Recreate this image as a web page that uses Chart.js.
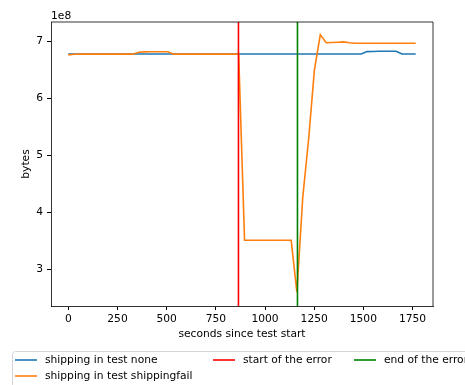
<!DOCTYPE html>
<html>
<head>
<meta charset="utf-8">
<script src="https://cdn.jsdelivr.net/npm/chart.js@4"></script>
<style>
    body { margin: 0; background: #fff; }
    canvas { display: block; }
</style>
</head>
<body>
<canvas id="grafico" width="465" height="385"></canvas>
<script>
// Tempos das amostras (segundos desde o início do teste)
const temposAmostra = [
    0, 30, 60, 90, 119, 149, 179, 209, 238, 268,
    298, 328, 357, 387, 417, 447, 476, 506, 536, 566,
    595, 625, 655, 685, 714, 744, 774, 804, 834, 866,
    896, 925, 955, 985, 1014, 1044, 1074, 1103, 1133, 1162,
    1192, 1222, 1251, 1281, 1311, 1340, 1370, 1400, 1429, 1459,
    1489, 1518, 1548, 1578, 1607, 1637, 1667, 1696, 1731, 1766
];

// Bytes no teste "none"
const bytesNone = [
    6.782e8, 6.782e8, 6.782e8, 6.782e8, 6.782e8, 6.782e8, 6.782e8, 6.782e8, 6.782e8, 6.782e8,
    6.782e8, 6.782e8, 6.782e8, 6.782e8, 6.782e8, 6.782e8, 6.782e8, 6.782e8, 6.782e8, 6.782e8,
    6.782e8, 6.782e8, 6.782e8, 6.782e8, 6.782e8, 6.782e8, 6.782e8, 6.782e8, 6.782e8, 6.782e8,
    6.782e8, 6.782e8, 6.782e8, 6.782e8, 6.782e8, 6.782e8, 6.782e8, 6.782e8, 6.782e8, 6.782e8,
    6.782e8, 6.782e8, 6.782e8, 6.782e8, 6.782e8, 6.782e8, 6.782e8, 6.782e8, 6.782e8, 6.782e8,
    6.782e8, 6.825e8, 6.828e8, 6.830e8, 6.830e8, 6.832e8, 6.832e8, 6.782e8, 6.782e8, 6.782e8
];

// Bytes no teste "shippingfail"
const bytesShippingfail = [
    6.768e8, 6.778e8, 6.780e8, 6.780e8, 6.780e8, 6.780e8, 6.780e8, 6.780e8, 6.780e8, 6.780e8,
    6.780e8, 6.780e8, 6.815e8, 6.820e8, 6.822e8, 6.823e8, 6.823e8, 6.822e8, 6.780e8, 6.780e8,
    6.780e8, 6.780e8, 6.780e8, 6.780e8, 6.780e8, 6.780e8, 6.780e8, 6.780e8, 6.780e8, 6.780e8,
    3.510e8, 3.510e8, 3.510e8, 3.510e8, 3.510e8, 3.510e8, 3.510e8, 3.510e8, 3.510e8, 2.600e8,
    4.270e8, 5.300e8, 6.500e8, 7.120e8, 6.980e8, 6.985e8, 6.990e8, 6.995e8, 6.980e8, 6.972e8,
    6.972e8, 6.972e8, 6.972e8, 6.972e8, 6.972e8, 6.972e8, 6.972e8, 6.972e8, 6.972e8, 6.972e8
];

// Início e fim do erro (segundos)
const inicioErro = 865;
const fimErro = 1165;

// Ticks dos eixos
const ticksX = [0, 250, 500, 750, 1000, 1250, 1500, 1750];
const ticksY = [3e8, 4e8, 5e8, 6e8, 7e8];
const limitesX = [-88, 1854];
const limitesY = [2.356e8, 7.345e8];

const fonte = "'DejaVu Sans', sans-serif";
const tamanhoFonte = 10.7;

function montarPontos(tempos, valores) {
    return tempos.map((t, i) => ({ x: t, y: valores[i] }));
}

// Legenda em três colunas, como no matplotlib
const pluginLegenda = {
    id: 'legendaColunas',
    afterDraw(chart) {
        const ctx = chart.ctx;
        const ds = chart.data.datasets;
        ctx.save();
        ctx.beginPath();
        ctx.roundRect(12.5, 351.5, 470, 50, 3);
        ctx.fillStyle = 'rgba(255,255,255,0.8)';
        ctx.fill();
        ctx.strokeStyle = '#d6d6d6';
        ctx.lineWidth = 1;
        ctx.stroke();

        const itens = [
            { ds: ds[0], x: 15, y: 360 },
            { ds: ds[1], x: 15, y: 376 },
            { ds: ds[2], x: 213, y: 360 },
            { ds: ds[3], x: 354, y: 360 }
        ];
        ctx.font = tamanhoFonte + 'px ' + fonte;
        ctx.textBaseline = 'middle';
        itens.forEach(item => {
            ctx.beginPath();
            ctx.moveTo(item.x, item.y);
            ctx.lineTo(item.x + 22, item.y);
            ctx.strokeStyle = item.ds.borderColor;
            ctx.lineWidth = 1.6;
            ctx.stroke();
            ctx.fillStyle = '#000';
            ctx.fillText(item.ds.label, item.x + 30, item.y);
        });

        // Moldura superior e direita + "1e8"
        const a = chart.chartArea;
        ctx.strokeStyle = '#000';
        ctx.lineWidth = 0.8;
        ctx.beginPath();
        ctx.moveTo(a.left, a.top);
        ctx.lineTo(a.right, a.top);
        ctx.lineTo(a.right, a.bottom);
        ctx.stroke();
        ctx.fillStyle = '#000';
        ctx.textBaseline = 'alphabetic';
        ctx.fillText('1e8', a.left, a.top - 3);
        ctx.restore();
    }
};

new Chart(document.getElementById('grafico').getContext('2d'), {
    type: 'line',
    data: {
        datasets: [
            {
                label: 'shipping in test none',
                data: montarPontos(temposAmostra, bytesNone),
                borderColor: '#1f77b4',
                order: 4
            },
            {
                label: 'shipping in test shippingfail',
                data: montarPontos(temposAmostra, bytesShippingfail),
                borderColor: '#ff7f0e',
                order: 3
            },
            {
                label: 'start of the error',
                data: [{ x: inicioErro, y: limitesY[0] }, { x: inicioErro, y: limitesY[1] }],
                borderColor: '#ff0000',
                order: 2
            },
            {
                label: 'end of the error',
                data: [{ x: fimErro, y: limitesY[0] }, { x: fimErro, y: limitesY[1] }],
                borderColor: '#008000',
                order: 1
            }
        ]
    },
    options: {
        responsive: false,
        animation: false,
        devicePixelRatio: 1,
        layout: { padding: { left: 0, top: 22, right: 32, bottom: 39 } },
        elements: {
            point: { radius: 0 },
            line: { borderWidth: 1.6, tension: 0, fill: false }
        },
        plugins: {
            legend: { display: false },
            tooltip: { enabled: false }
        },
        scales: {
            x: {
                type: 'linear',
                min: limitesX[0],
                max: limitesX[1],
                afterBuildTicks: escala => { escala.ticks = ticksX.map(v => ({ value: v })); },
                afterFit: escala => { escala.height = 40; },
                ticks: {
                    color: '#000',
                    font: { family: fonte, size: tamanhoFonte },
                    padding: 3,
                    maxRotation: 0,
                    autoSkip: false,
                    callback: valor => String(valor)
                },
                grid: { drawOnChartArea: false, drawTicks: true, tickLength: 4, color: '#000' },
                border: { display: true, color: '#000', width: 0.8 },
                title: {
                    display: true,
                    text: 'seconds since test start',
                    color: '#000',
                    font: { family: fonte, size: tamanhoFonte },
                    padding: { top: 0, bottom: 5 }
                }
            },
            y: {
                type: 'linear',
                min: limitesY[0],
                max: limitesY[1],
                afterBuildTicks: escala => { escala.ticks = ticksY.map(v => ({ value: v })); },
                afterFit: escala => { escala.width = 51; },
                ticks: {
                    color: '#000',
                    font: { family: fonte, size: tamanhoFonte },
                    padding: 4,
                    callback: valor => String(Math.round(valor / 1e8))
                },
                grid: { drawOnChartArea: false, drawTicks: true, tickLength: 4, color: '#000' },
                border: { display: true, color: '#000', width: 0.8 },
                title: {
                    display: true,
                    text: 'bytes',
                    color: '#000',
                    font: { family: fonte, size: tamanhoFonte },
                    padding: { top: 20, bottom: 0 }
                }
            }
        }
    },
    plugins: [pluginLegenda]
});
</script>
</body>
</html>
